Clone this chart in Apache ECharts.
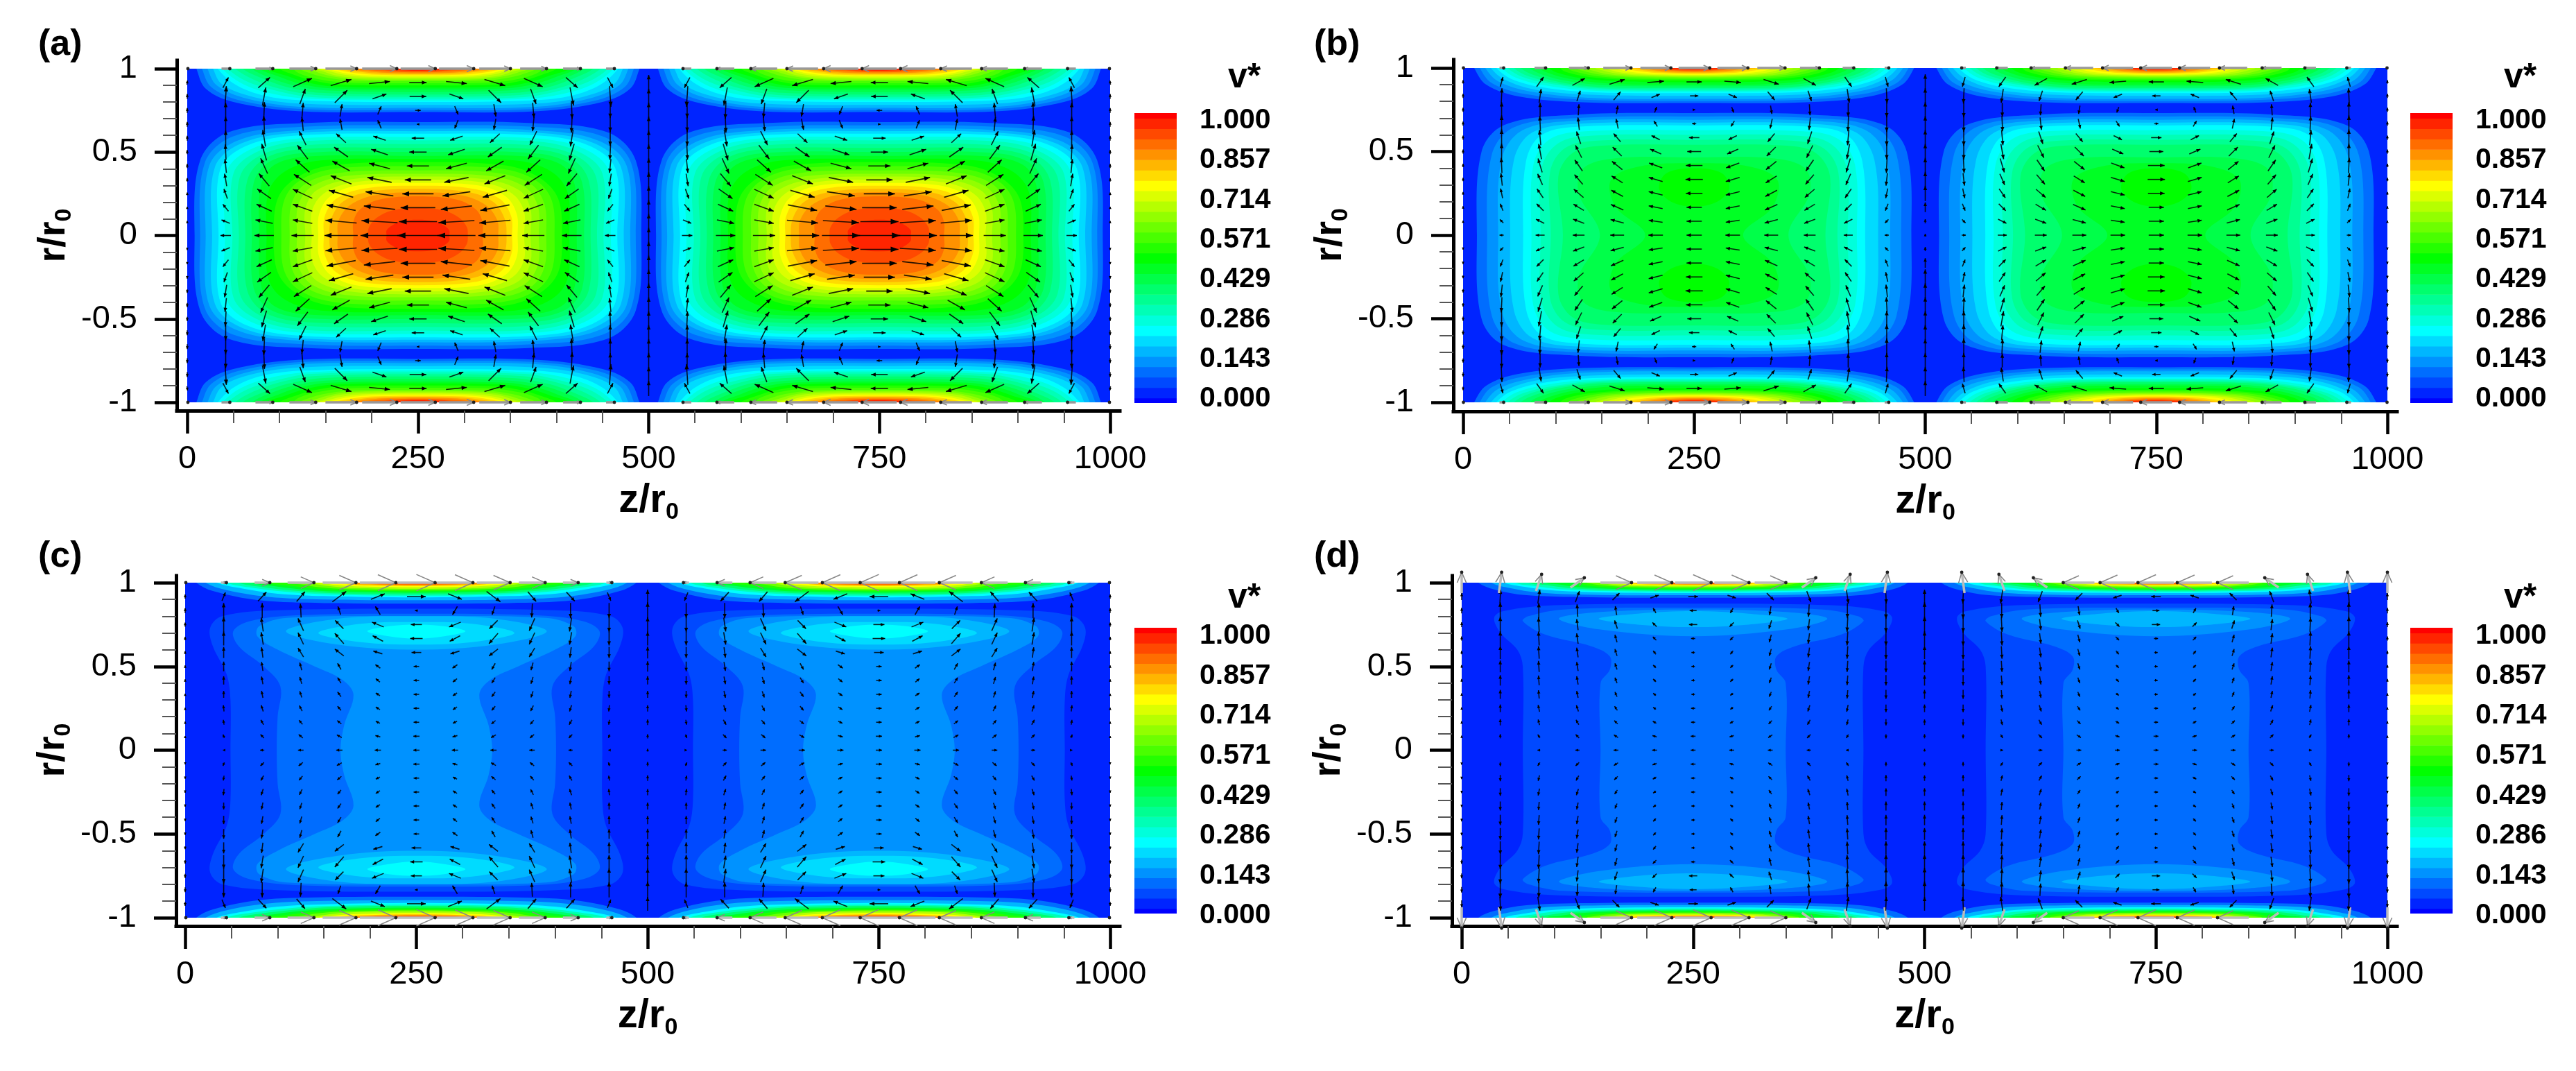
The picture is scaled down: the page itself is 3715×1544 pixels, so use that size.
<!DOCTYPE html>
<html><head><meta charset="utf-8"><style>html,body{margin:0;padding:0;background:#fff}#c{width:3715px;height:1544px}</style>
<script src="https://cdn.jsdelivr.net/npm/echarts@6/dist/echarts.min.js"></script></head><body><div id="c"></div>
<script>
// ---- axes / legend values
const xTicks=[0,250,500,750,1000];
const yTicks=[-1,-0.5,0,0.5,1];
const colorTicks=['0.000','0.143','0.286','0.429','0.571','0.714','0.857','1.000'];
const panelNames=['(a)','(b)','(c)','(d)'];
const rainbow=[[0,[0,0,255]],[0.25,[0,255,255]],[0.5,[0,255,0]],[0.75,[255,255,0]],[1,[255,0,0]]];
const arrowRows=[0,.0833,.1667,.25,.3333,.4167,.5,.5833,.6667,.75,.8333,.9167,1];
const arrowCols=[0,41.67,83.33,125,166.67,208.33,250,291.67,333.33,375,416.67,458.33,500];

// ---- contour outlines, one quarter of one 0-500 period.
// each entry: [colour band k of 28, z,r, z,r, ...]
// *_c: closed about the centre (z=250, r=0); *_w: lobes or wall-attached regions
const a_c=[
[3,250,.68,130,.675,45,.62,14,.45,8,0],
[4,250,.66,125,.652,50,.595,19,.435,14,0],
[5,250,.64,120,.63,55,.57,24,.42,20,0],
[6,250,.625,120,.615,60,.555,30,.41,27,0],
[7,250,.61,120,.60,65,.54,36,.40,34,0],
[8,250,.59,122,.582,70,.52,43,.385,41,0],
[9,250,.57,125,.565,75,.50,50,.37,49,0],
[10,250,.548,127,.542,80,.482,57,.35,56,0],
[11,250,.525,130,.52,85,.465,65,.33,63,0],
[12,250,.50,132,.497,90,.445,72,.315,70,0],
[13,250,.477,135,.475,95,.425,80,.30,78,0],
[14,250,.458,145,.45,106,.385,88,.26,86,0],
[15,250,.44,155,.42,118,.345,98,.22,94,0],
[16,250,.415,160,.40,122,.33,105,.21,102,0],
[17,250,.39,165,.375,128,.31,113,.19,111,0],
[18,250,.37,170,.355,134,.29,120,.175,119,0],
[19,250,.353,175,.335,140,.27,128,.16,128,0],
[20,250,.334,180,.318,148,.252,135,.145,135,0],
[21,250,.315,185,.30,155,.235,143,.13,142,0],
[22,250,.298,190,.28,161,.218,149,.115,148,0],
[23,250,.28,195,.26,168,.20,156,.10,154,0],
[24,250,.26,202,.24,176,.18,164,.09,163,0],
[25,250,.235,208,.215,187,.155,180,.08,180,0],
[26,250,.165,222,.15,205,.105,197,.05,196,0],
[27,250,.095,232,.085,222,.06,216,.03,216,0]];
const a_w=[
[3,250,.74,120,.745,50,.80,20,.88,10,1],
[4,250,.753,125,.758,57,.81,26,.89,16,1],
[5,250,.765,125,.77,65,.82,32,.90,22,1],
[6,250,.783,125,.79,72,.83,38,.905,28,1],
[7,250,.80,125,.81,82,.84,52,.905,33,1],
[8,250,.81,130,.82,88,.855,58,.915,38,1],
[9,250,.82,135,.83,95,.87,64,.925,44,1],
[10,250,.832,140,.842,100,.88,72,.935,52,1],
[11,250,.845,145,.855,108,.89,80,.945,60,1],
[12,250,.86,150,.87,115,.90,88,.95,70,1],
[13,250,.875,155,.883,122,.91,98,.955,78,1],
[14,250,.887,160,.893,128,.92,106,.96,85,1],
[15,250,.90,165,.905,135,.93,115,.965,100,1],
[16,250,.913,170,.918,140,.94,122,.97,115,1],
[17,250,.925,175,.93,148,.95,132,.975,122,1],
[18,250,.933,180,.938,155,.956,140,.98,130,1],
[19,250,.94,185,.945,160,.96,146,.985,135,1],
[20,250,.947,190,.952,167,.967,153,.987,143,1],
[21,250,.954,195,.959,172,.972,158,.99,148,1],
[22,250,.96,200,.965,178,.977,166,.99,155,1],
[23,250,.967,205,.971,185,.982,172,.992,163,1],
[24,250,.972,212,.976,193,.985,180,.994,175,1],
[25,250,.978,220,.982,200,.99,190,.996,185,1],
[26,250,.983,225,.987,210,.994,200,1],
[27,250,.988,232,.992,215,1]];
const b_c=[
[3,250,.73,120,.72,45,.66,20,.5,15,0],
[4,250,.71,122,.70,55,.645,31,.48,26,0],
[5,250,.69,125,.685,65,.63,42,.46,38,0],
[6,250,.673,127,.667,75,.615,55,.45,51,0],
[7,250,.656,130,.65,85,.60,68,.44,65,0],
[8,250,.628,135,.622,94,.575,76,.42,74,0],
[9,250,.60,140,.595,103,.55,85,.40,84,0],
[10,250,.57,145,.565,110,.52,94,.375,95,0],
[11,250,.54,150,.535,118,.49,103,.35,108,0],
[12,250,.465,165,.46,130,.40,125,.25,148,0],
[13,250,.43,190,.41,160,.33,165,.17,197,0]];
const b_w=[
[14,250,.40,220,.37,212,.28,225,.20,250,.17],
[3,250,.79,130,.795,60,.83,25,.90,12,1],
[4,250,.803,132,.81,66,.845,31,.91,18,1],
[5,250,.815,135,.822,72,.86,38,.92,24,1],
[6,250,.833,137,.84,78,.87,45,.93,30,1],
[7,250,.85,140,.855,85,.885,52,.935,36,1],
[8,250,.858,145,.863,92,.893,58,.94,42,1],
[9,250,.865,150,.87,100,.90,65,.945,48,1],
[10,250,.873,152,.878,105,.905,71,.95,55,1],
[11,250,.88,155,.885,110,.91,78,.955,62,1],
[12,250,.89,160,.895,115,.92,86,.96,72,1],
[13,250,.90,165,.905,120,.93,95,.965,82,1],
[14,250,.915,170,.92,127,.94,103,.97,93,1],
[15,250,.925,175,.93,135,.947,112,.975,105,1],
[16,250,.933,180,.937,142,.953,120,.98,113,1],
[17,250,.94,185,.945,150,.958,128,.985,122,1],
[18,250,.945,190,.95,157,.963,138,.988,132,1],
[19,250,.95,195,.955,165,.968,148,.99,143,1],
[20,250,.955,200,.96,172,.972,158,.99,153,1],
[21,250,.96,205,.965,180,.977,168,.992,163,1],
[22,250,.965,210,.97,189,.982,178,.993,173,1],
[23,250,.97,215,.975,198,.985,188,.995,183,1],
[24,250,.975,220,.98,205,.989,196,1],
[25,250,.98,225,.985,212,.993,205,1],
[26,250,.985,228,.989,217,1],
[27,250,.99,232,.994,222,1]];
const c_c=[
[2,250,.845,100,.835,40,.80,27,.73,30,.62,45,.45,49,.3,49,0],
[3,250,.815,120,.805,70,.77,52,.71,58,.62,85,.50,103,.38,100,.2,99,0],
[4,250,.80,110,.79,80,.74,78,.68,100,.60,140,.50,170,.42,182,.33,172,.15,168,0]];
const c_w=[
[5,250,.80,165,.785,109,.71,165,.63,250,.60],
[6,250,.765,190,.755,144,.70,190,.645,250,.63],
[7,250,.75,220,.74,197,.71,220,.68,250,.665],
[3,250,.875,150,.878,80,.895,30,.95,12,1],
[5,250,.895,150,.90,90,.915,45,.955,22,1],
[7,250,.912,150,.92,100,.934,62,.965,34,1],
[9,250,.922,155,.93,110,.945,72,.97,45,1],
[11,250,.93,160,.937,118,.952,82,.975,58,1],
[13,250,.94,165,.947,125,.96,95,.98,72,1],
[15,250,.948,170,.955,135,.967,108,.985,88,1],
[17,250,.955,175,.962,145,.973,125,.99,110,1],
[19,250,.963,180,.968,155,.98,140,.992,130,1],
[21,250,.972,190,.977,165,.985,152,.994,145,1],
[23,250,.98,200,.984,178,.99,168,.996,160,1],
[25,250,.987,210,.99,190,.995,175,1],
[27,250,.993,225,.995,200,1]];
const d_c=[
[2,250,.875,100,.865,45,.83,35,.79,42,.70,60,.60,66,.50,66,0],
[3,250,.85,110,.84,72,.80,66,.77,90,.69,140,.62,160,.56,160,.48,150,.40,150,0]];
const d_w=[
[4,250,.84,150,.825,105,.785,150,.72,250,.68],
[5,250,.83,190,.815,148,.785,190,.75,250,.735],
[3,250,.91,150,.912,70,.925,35,.96,18,1],
[5,250,.925,150,.927,85,.94,50,.97,32,1],
[7,250,.938,150,.942,95,.955,68,.975,46,1],
[9,250,.945,155,.95,105,.962,78,.98,58,1],
[11,250,.952,160,.957,115,.968,92,.985,72,1],
[13,250,.958,165,.963,125,.974,105,.99,91,1],
[15,250,.964,170,.969,140,.98,128,.992,121,1],
[17,250,.97,175,.975,150,.985,140,.994,135,1],
[19,250,.976,180,.98,160,.99,153,.996,150,1],
[21,250,.982,190,.985,172,.993,165,1],
[23,250,.987,200,.99,183,.996,178,1],
[25,250,.991,215,.994,200,1],
[27,250,.996,230,.998,222,1]];

// ---- vector components: rows r=0..1, columns z=0..250
const a_u=[
[0,-15,-28,-32,-48,-55,-60],[0,-12,-25,-28,-45,-52,-55],[0,-8,-22,-28,-42,-45,-50],[0,-5,-20,-28,-35,-40,-45],
[0,-3,-15,-25,-30,-35,-38],[0,-2,-10,-20,-25,-30,-32],[0,-1,-7,-15,-20,-24,-25],[0,0,-4,-10,-14,-18,-18],
[0,0,-1,-2,-3,-5,-3],[0,0,1,2,3,5,8],[0,2,5,8,18,20,24],[1,8,17,27,30,30,25],[2,12,25,38,45,50,50]];
const a_v=[
[0,0,0,0,0,0,0],[2,5,5,5,4,3,0],[3,10,10,10,8,5,0],[4,14,14,13,10,6,0],
[5,18,18,16,12,7,0],[6,20,22,18,14,8,0],[6,22,24,20,14,8,0],[7,22,24,20,13,6,0],
[7,22,24,20,16,12,0],[7,22,24,22,18,12,0],[7,30,26,22,18,7,0],[6,15,15,12,9,3,0],[0,0,0,0,0,0,0]];
const a_m=[22,22,22,22,22,22,22,22,22,22,22,22,0];
const b_u=[
[0,-6,-13,-17,-20,-21,-22],[0,-5,-12,-16,-19,-20,-22],[0,-4,-10,-15,-18,-20,-22],[0,-3,-9,-14,-17,-20,-24],
[0,-2,-7,-12,-16,-20,-25],[0,-1,-6,-11,-15,-19,-24],[0,0,-4,-9,-13,-16,-20],[0,0,-2,-6,-10,-12,-15],
[0,0,-1,-2,-3,-5,-6],[0,0,0,1,2,3,3],[0,1,3,5,10,12,12],[0,4,10,18,22,24,22],[1,6,16,28,40,44,45]];
const b_v=[
[0,0,0,0,0,0,0],[2,5,6,6,5,3,0],[3,10,10,9,8,4,0],[4,14,13,12,9,5,0],
[5,18,16,14,10,6,0],[5,22,20,16,12,7,0],[6,23,22,18,13,7,0],[6,24,22,18,12,6,0],
[6,24,22,18,14,8,0],[6,22,20,16,12,8,0],[6,22,20,15,12,5,0],[5,14,14,10,7,2,0],[0,0,0,0,0,0,0]];
const b_m=[4,6,14,22,22,22,22,22,22,22,22,22,0];
const c_u=[
[0,-2,-6,-8,-9,-9,-9],[0,-2,-5,-6,-7,-7,-9],[0,-1,-4,-5,-6,-6,-8],[0,-1,-3,-4,-5,-6,-8],
[0,0,-2,-3,-5,-6,-8],[0,0,-2,-3,-5,-6,-8],[0,0,-2,-3,-5,-7,-8],[0,0,-2,-8,-13,-13,-14],
[0,0,-3,-8,-13,-15,-18],[0,0,-3,-8,-12,-17,-16],[0,0,0,-1,-4,-7,-4],[0,5,12,12,20,20,27],[2,8,22,38,48,52,54]];
const c_v=[
[0,0,0,0,0,0,0],[1,5,5,5,4,2,0],[2,7,7,6,5,3,0],[2,9,9,8,6,4,0],
[2,10,10,9,7,4,0],[3,12,11,10,8,5,0],[3,14,13,11,9,5,0],[4,16,15,13,10,4,0],
[5,20,18,17,15,8,0],[6,22,20,18,12,7,0],[7,22,22,20,12,12,0],[6,12,13,14,15,8,0],[0,0,0,0,0,0,0]];
const c_m=[4,6,8,9,10,12,15,17,20,22,24,20,0];
const d_u=[
[0,0,-4,-6,-7,-7,-7],[0,0,-3,-5,-6,-6,-7],[0,0,-2,-4,-5,-5,-6],[0,0,-2,-3,-4,-4,-6],
[0,0,-1,-2,-3,-4,-5],[0,0,-1,-2,-3,-4,-5],[0,0,-1,-2,-3,-4,-5],[0,0,-1,-2,-3,-4,-5],
[0,0,-1,-2,-3,-5,-6],[0,0,-1,-2,-4,-6,-12],[0,0,0,-1,-2,-4,-10],[0,1,3,6,10,12,14],[0,4,8,20,45,50,52]];
const d_v=[
[0,0,0,0,0,0,0],[2,6,5,5,4,2,0],[3,9,8,7,5,3,0],[3,11,10,9,6,3,0],
[3,13,12,10,7,3,0],[4,15,14,12,8,4,0],[4,17,16,13,9,4,0],[5,19,18,14,10,5,0],
[6,21,20,15,11,5,0],[7,23,21,16,12,6,0],[8,24,22,18,13,7,0],[10,20,20,16,10,4,0],[30,30,24,14,0,0,0]];
const d_m=[4,6,8,11,13,15,17,19,21,23,24,20,0];

// ---- page layout in pixels
const layout=[
 {x:270,w:1331,y:99,h:481,lx:255,rx:1615,ty:87,by:592,cb:[1636,163,61,418],cl:[173.5,575],tx:50,tyT:34,vx:1766,vy:82,big:0},
 {x:2110,w:1333,y:98,h:482,lx:2096,rx:3457,ty:86,by:593,cb:[3476,163,61,418],cl:[173.5,575],tx:1890,tyT:34,vx:3606,vy:82,big:0},
 {x:267,w:1334,y:840,h:483,lx:254,rx:1615,ty:830,by:1335,cb:[1636,905,61,412],cl:[917,1320],tx:50,tyT:772,vx:1766,vy:832,big:1},
 {x:2108,w:1335,y:840,h:483,lx:2094,rx:3457,ty:830,by:1335,cb:[3476,905,61,412],cl:[917,1320],tx:1890,tyT:772,vx:3606,vy:832,big:1}
];
const fields=[[a_c,a_w,a_u,a_v,a_m],[b_c,b_w,b_u,b_v,b_m],[c_c,c_w,c_u,c_v,c_m],[d_c,d_w,d_u,d_v,d_m]];
const FONT='"Liberation Sans", Arial, sans-serif';

function bandColor(t){
  for(let i=1;i<rainbow.length;i++){
    if(t<=rainbow[i][0]){
      const a=rainbow[i-1],b=rainbow[i],f=(t-a[0])/(b[0]-a[0]);
      return 'rgb('+a[1].map((c,j)=>Math.round(c+(b[1][j]-c)*f)).join(',')+')';
    }
  }
  return 'rgb(255,0,0)';
}
function pairs(e){const p=[];for(let i=1;i<e.length;i+=2)p.push([e[i],e[i+1]]);return p;}
// unfold a quarter outline into full polygons in (z,r)
function unfold(entry,central){
  const q=pairs(entry),out=[];
  if(central){
    const half=q.concat(q.slice(0,-1).reverse().map(p=>[p[0],-p[1]]));
    const other=half.slice(1,-1).reverse().map(p=>[500-p[0],p[1]]);
    out.push(half.concat(other));
  }else{
    const last=q[q.length-1];
    let chain=q.slice();
    if(last[1]>=1)chain.push([last[0],1.03]);
    const endOn=last[0]===250?1:0;
    const other=chain.slice(1,chain.length-endOn).reverse().map(p=>[500-p[0],p[1]]);
    const up=chain.concat(other);
    out.push(up);out.push(up.map(p=>[p[0],-p[1]]));
  }
  return out;
}
function polysOf(f){
  const list=[];
  f[0].forEach(e=>unfold(e,true).forEach(p=>list.push({k:e[0],p})));
  f[1].forEach(e=>unfold(e,false).forEach(p=>list.push({k:e[0],p})));
  list.sort((a,b)=>a.k-b.k);
  const both=[];
  list.forEach(o=>{both.push(o);both.push({k:o.k,p:o.p.map(q=>[q[0]+500,q[1]])});});
  return both;
}
function arrowsOf(f){
  const u=f[2],v=f[3],m=f[4],out=[];
  for(let j=-12;j<=12;j++){
    const R=Math.abs(j),s=j<0?-1:1,r=s*arrowRows[R];
    for(let i=0;i<=24;i++){
      const a=i>12?24-i:i;
      const c=a>6?12-a:a;
      let U=u[R][c],V=v[R][c]*s;
      if(a>6&&R<12)V=-V;
      if(a===12){U=0;V=m[R];}
      if(i>12)U=-U;
      const z=i<=12?arrowCols[i]:1000-arrowCols[24-i];
      out.push([z,r,U,V,R===12?1:0]);
    }
  }
  return out;
}

const grid=[],xAxis=[],yAxis=[],series=[],title=[];
function hiddenAxis(extra){return Object.assign({type:'value',min:0,max:1,show:false},extra);}
layout.forEach((L,i)=>{
  const f=fields[i];
  const g0=grid.length;
  grid.push({left:L.lx,width:L.rx-L.lx,top:L.ty,height:L.by-L.ty});
  const frameLine={show:true,onZero:false,lineStyle:{color:'#000',width:5,cap:'square'}};
  xAxis.push({gridIndex:g0,type:'value',min:0,max:1,position:'bottom',axisLine:frameLine,axisTick:{show:false},axisLabel:{show:false},splitLine:{show:false}});
  yAxis.push({gridIndex:g0,type:'value',min:0,max:1,position:'left',axisLine:frameLine,axisTick:{show:false},axisLabel:{show:false},splitLine:{show:false}});
  const g1=grid.length;
  grid.push({left:L.x,width:L.w,top:L.y,height:L.h});
  xAxis.push({gridIndex:g1,type:'value',min:xTicks[0],max:xTicks[4],interval:xTicks[1]-xTicks[0],position:'bottom',offset:L.by-L.y-L.h,
    axisLine:{show:false,onZero:false},axisTick:{show:true,length:33,lineStyle:{color:'#000',width:4.5}},
    minorTick:{show:true,splitNumber:5,length:18,lineStyle:{color:'#555',width:2}},splitLine:{show:false},minorSplitLine:{show:false},
    axisLabel:{fontFamily:FONT,fontSize:47,color:'#000',margin:47,showMinLabel:true,showMaxLabel:true,formatter:v=>String(v)},
    name:'{m|z/r}{s|0}',nameLocation:'middle',nameGap:96,
    nameTextStyle:{rich:{m:{fontFamily:FONT,fontSize:58,fontWeight:'bold',color:'#000',lineHeight:68},s:{fontFamily:FONT,fontSize:34,fontWeight:'bold',color:'#000',verticalAlign:'bottom',lineHeight:68}}}});
  yAxis.push({gridIndex:g1,type:'value',min:yTicks[0],max:yTicks[4],interval:yTicks[1]-yTicks[0],position:'left',offset:L.x-L.lx,
    axisLine:{show:false,onZero:false},axisTick:{show:true,length:32,lineStyle:{color:'#000',width:4.5}},
    minorTick:{show:true,splitNumber:5,length:20,lineStyle:{color:'#555',width:2}},splitLine:{show:false},minorSplitLine:{show:false},
    axisLabel:{fontFamily:FONT,fontSize:47,color:'#000',margin:57,showMinLabel:true,showMaxLabel:true},
    name:'{m|r/r}{s|0}',nameLocation:'middle',nameGap:145,nameRotate:90,
    nameTextStyle:{rich:{m:{fontFamily:FONT,fontSize:56,fontWeight:'bold',color:'#000',lineHeight:64},s:{fontFamily:FONT,fontSize:34,fontWeight:'bold',color:'#000',verticalAlign:'bottom',lineHeight:64}}}});
  const polys=polysOf(f);
  series.push({type:'custom',coordinateSystem:'cartesian2d',xAxisIndex:g1,yAxisIndex:g1,clip:true,animation:false,silent:true,z:2,
    data:[{value:[-1]}].concat(polys.map((o,n)=>({value:[n]}))),
    renderItem(params,api){
      const n=api.value(0);
      if(n<0){
        const a=api.coord([xTicks[0],yTicks[4]]),b=api.coord([xTicks[4],yTicks[0]]);
        return {type:'rect',shape:{x:a[0],y:a[1],width:b[0]-a[0],height:b[1]-a[1]},style:{fill:bandColor(1/28)}};
      }
      const o=polys[n];
      return {type:'polygon',shape:{points:o.p.map(q=>api.coord(q)),smooth:0.35},style:{fill:bandColor(o.k/28)}};
    }});
  const arrows=arrowsOf(f);
  const big=L.big;
  series.push({type:'custom',coordinateSystem:'cartesian2d',xAxisIndex:g1,yAxisIndex:g1,clip:false,animation:false,silent:true,z:3,
    data:arrows,
    renderItem(params,api){
      const c=api.coord([api.value(0),api.value(1)]),U=api.value(2),V=api.value(3),wall=api.value(4);
      const len=Math.hypot(U,V);
      if(len<0.5)return null;
      const ux=U/len,uy=-V/len;
      const tip=[c[0]+ux*len/2,c[1]+uy*len/2],tail=[c[0]-ux*len/2,c[1]-uy*len/2];
      let hl=3+len*0.15,hw=1.8+len*0.04;
      if(wall){hl=big?len*0.5:len*0.2;hw=big?len*0.22:len*0.09;}
      const bx=tip[0]-ux*hl,by=tip[1]-uy*hl;
      const p1=[bx-uy*hw,by+ux*hw],p2=[bx+uy*hw,by-ux*hw];
      const ch=[{type:'line',shape:{x1:tail[0],y1:tail[1],x2:tip[0],y2:tip[1]},style:{stroke:wall?(big?'#bbb':'#999'):'rgba(0,0,0,0.85)',lineWidth:wall?3.5:1.6,fill:null}}];
      if(wall){
        ch.push({type:'polyline',shape:{points:[p1,tip,p2]},style:{stroke:'#888',lineWidth:1.6,fill:null}});
        ch.push({type:'circle',shape:{cx:tip[0],cy:tip[1],r:2.4},style:{fill:'#222'}});
      }else ch.push({type:'polygon',shape:{points:[p1,tip,p2]},style:{fill:'#000'}});
      return {type:'group',children:ch};
    }});
  const g2=grid.length;
  grid.push({left:L.cb[0],top:L.cb[1],width:L.cb[2],height:L.cb[3]});
  xAxis.push(hiddenAxis({gridIndex:g2}));
  yAxis.push(hiddenAxis({gridIndex:g2}));
  const levels=[];for(let k=0;k<=28;k++)levels.push([k]);
  series.push({type:'custom',coordinateSystem:'cartesian2d',xAxisIndex:g2,yAxisIndex:g2,clip:true,animation:false,silent:true,z:2,
    data:levels,
    renderItem(params,api){
      const k=api.value(0),lo=Math.max(0,(k-.5)/28),hi=Math.min(1,(k+.5)/28);
      const a=api.coord([0,hi]),b=api.coord([1,lo]);
      return {type:'rect',shape:{x:a[0],y:a[1],width:b[0]-a[0],height:b[1]-a[1]+0.6},style:{fill:bandColor(k/28)}};
    }});
  const g3=grid.length;
  grid.push({left:L.cb[0],top:L.cl[0],width:L.cb[2],height:L.cl[1]-L.cl[0]});
  xAxis.push(hiddenAxis({gridIndex:g3}));
  yAxis.push({gridIndex:g3,type:'value',min:0,max:1,position:'right',interval:1/(colorTicks.length-1),
    axisLine:{show:false},axisTick:{show:false},splitLine:{show:false},
    axisLabel:{fontFamily:FONT,fontSize:41,fontWeight:'bold',color:'#000',margin:33,align:'left',showMinLabel:true,showMaxLabel:true,
      formatter:v=>colorTicks[Math.round(v*(colorTicks.length-1))]}});
  title.push({text:panelNames[i],left:L.tx,top:L.tyT,textStyle:{fontFamily:FONT,fontSize:52,fontWeight:'bold',color:'#000'}});
  title.push({text:'v*',left:L.vx,top:L.vy,textStyle:{fontFamily:FONT,fontSize:50,fontWeight:'bold',color:'#000'}});
});
const chart=echarts.init(document.getElementById('c'),null,{renderer:'canvas'});
chart.setOption({animation:false,backgroundColor:'#fff',title,grid,xAxis,yAxis,series});
</script></body></html>
